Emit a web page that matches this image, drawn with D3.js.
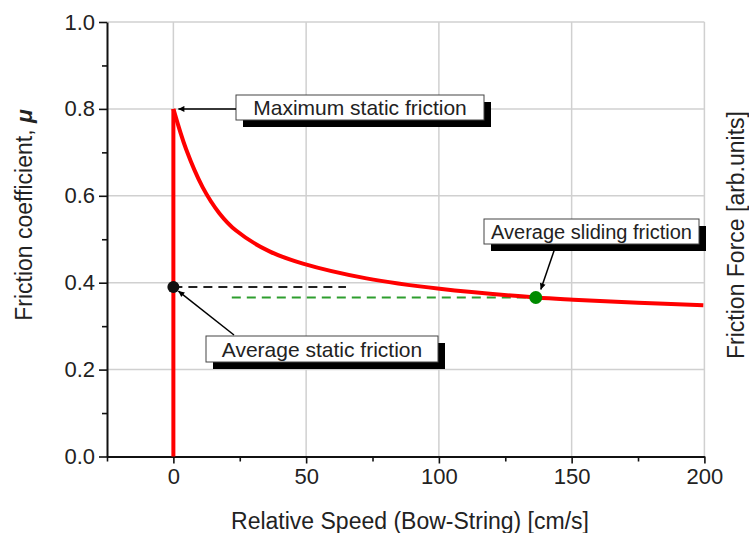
<!DOCTYPE html>
<html>
<head>
<meta charset="utf-8">
<script src="https://cdn.jsdelivr.net/npm/d3@7"></script>
<style>
  body { margin: 0; background: #fff; }
  text { font-family: "Liberation Sans", Arial, sans-serif; fill: #222; }
</style>
</head>
<body>
<div id="chart"></div>
<script>
// stick phase (vertical rise at zero speed)
const stickSpeed = [0, 0];
const stickMu = [0, 0.80];
// sliding phase
const slipSpeed = [0, 4.8, 11, 17.3, 23.6, 36.2, 48.8, 72.7, 100.3, 136.5, 150.6, 175, 199.6];
const slipMu = [0.80, 0.707, 0.620, 0.560, 0.520, 0.472, 0.444, 0.410, 0.386, 0.366, 0.361, 0.354, 0.348];

const xTicks = [0, 50, 100, 150, 200];
const xMinor = [-25, 25, 75, 125, 175];
const yTicks = [0, 0.2, 0.4, 0.6, 0.8, 1.0];
const yMinor = [0.1, 0.3, 0.5, 0.7, 0.9];

// markers and guide lines
const staticAvg = {speed: 0, mu: 0.39, lineEnd: 65};
const slidingAvg = {speed: 136.5, mu: 0.366, lineStart: 22};

const width = 749, height = 533;
const margin = {top: 22, right: 44, bottom: 76, left: 107};

const svg = d3.select("#chart")
    .append("svg")
    .attr("width", width)
    .attr("height", height);

const x = d3.scaleLinear()
    .domain([-25, 200])
    .range([margin.left, width - margin.right - 0.6]);

const y = d3.scaleLinear()
    .domain([0, 1])
    .range([height - margin.bottom - 0.5, margin.top]);

svg.append("defs").append("marker")
    .attr("id", "arrow")
    .attr("viewBox", "0 0 10 10")
    .attr("refX", 10).attr("refY", 5)
    .attr("markerWidth", 10).attr("markerHeight", 6)
    .attr("markerUnits", "userSpaceOnUse")
    .attr("orient", "auto")
    .append("path")
    .attr("d", "M0,0 L10,5 L0,10 Z")
    .attr("fill", "#000");

// grid
const grid = svg.append("g");
grid.selectAll(".gx")
    .data(xTicks)
    .enter().append("line")
    .attr("x1", d => x(d)).attr("x2", d => x(d))
    .attr("y1", y(0)).attr("y2", y(1))
    .style("stroke", "#d0d0d0")
    .style("stroke-width", 1.5);
grid.selectAll(".gy")
    .data(yTicks.slice(1))
    .enter().append("line")
    .attr("x1", x(-25)).attr("x2", x(200))
    .attr("y1", d => y(d)).attr("y2", d => y(d))
    .style("stroke", "#d0d0d0")
    .style("stroke-width", 1.5);

// axes
const xAxis = svg.append("g")
    .attr("transform", `translate(0, ${y(0)})`)
    .call(d3.axisBottom(x).tickValues(xTicks).tickSize(7).tickSizeOuter(0).tickPadding(5));
const yAxis = svg.append("g")
    .attr("transform", `translate(${x(-25)}, 0)`)
    .call(d3.axisLeft(y).tickValues(yTicks).tickFormat(d3.format(".1f")).tickSize(8).tickSizeOuter(0).tickPadding(4));

svg.append("g")
    .attr("transform", `translate(0, ${y(0)})`)
    .call(d3.axisBottom(x).tickValues(xMinor).tickSize(5).tickFormat("").tickSizeOuter(0))
    .select(".domain").remove();
svg.append("g")
    .attr("transform", `translate(${x(-25)}, 0)`)
    .call(d3.axisLeft(y).tickValues(yMinor).tickSize(5).tickFormat("").tickSizeOuter(0))
    .select(".domain").remove();

svg.selectAll(".domain").style("stroke", "#111").style("stroke-width", 2);
svg.selectAll(".tick line").style("stroke", "#111").style("stroke-width", 1.6);
xAxis.selectAll(".tick text").style("font-size", "22px").style("fill", "#222");
yAxis.selectAll(".tick text").style("font-size", "22px").style("fill", "#222");

// axis titles
svg.append("text")
    .attr("x", 410).attr("y", 529)
    .attr("text-anchor", "middle")
    .style("font-size", "23px")
    .text("Relative Speed (Bow-String) [cm/s]");

const yTitle = svg.append("text")
    .attr("transform", "translate(32, 215) rotate(-90)")
    .attr("text-anchor", "middle")
    .style("font-size", "23px");
yTitle.append("tspan").text("Friction coefficient, ");
yTitle.append("tspan").style("font-weight", "bold").style("font-style", "italic").text("\u03bc");

svg.append("text")
    .attr("transform", "translate(744, 235) rotate(-90)")
    .attr("text-anchor", "middle")
    .style("font-size", "23px")
    .text("Friction Force [arb.units]");

// guide lines
svg.append("line")
    .attr("x1", x(staticAvg.speed)).attr("x2", x(staticAvg.lineEnd))
    .attr("y1", y(staticAvg.mu)).attr("y2", y(staticAvg.mu))
    .style("stroke", "#222").style("stroke-width", 2)
    .style("stroke-dasharray", "9,6");
svg.append("line")
    .attr("x1", x(slidingAvg.lineStart)).attr("x2", x(slidingAvg.speed))
    .attr("y1", y(slidingAvg.mu)).attr("y2", y(slidingAvg.mu))
    .style("stroke", "#2e9e2e").style("stroke-width", 2)
    .style("stroke-dasharray", "9,6");

// friction curve
const line = d3.line().x(d => x(d[0])).y(d => y(d[1]));
svg.append("path")
    .datum(d3.zip(stickSpeed, stickMu))
    .attr("d", line)
    .style("fill", "none").style("stroke", "#ff0000").style("stroke-width", 4);
svg.append("path")
    .datum(d3.zip(slipSpeed, slipMu))
    .attr("d", line.curve(d3.curveCatmullRom.alpha(0.5)))
    .style("fill", "none").style("stroke", "#ff0000").style("stroke-width", 4)
    .style("stroke-linejoin", "round");

// points
svg.append("circle")
    .attr("cx", x(staticAvg.speed)).attr("cy", y(staticAvg.mu))
    .attr("r", 6).style("fill", "#111");
svg.append("circle")
    .attr("cx", x(slidingAvg.speed)).attr("cy", y(slidingAvg.mu))
    .attr("r", 6.5).style("fill", "#008a00");

// annotations: box with drop shadow, arrow to the point
function label(box, text, size, from, to) {
    const g = svg.append("g");
    g.append("rect")
        .attr("x", box[0] + 7).attr("y", box[1] + 7)
        .attr("width", box[2]).attr("height", box[3])
        .style("fill", "#000");
    g.append("rect")
        .attr("x", box[0]).attr("y", box[1])
        .attr("width", box[2]).attr("height", box[3])
        .style("fill", "#fff").style("stroke", "#444").style("stroke-width", 1);
    g.append("text")
        .attr("x", box[0] + box[2] / 2).attr("y", box[1] + box[3] / 2 + 7.5)
        .attr("text-anchor", "middle")
        .style("font-size", size + "px")
        .text(text);
    svg.append("line")
        .attr("x1", from[0]).attr("y1", from[1])
        .attr("x2", to[0]).attr("y2", to[1])
        .style("stroke", "#000").style("stroke-width", 1.5)
        .attr("marker-end", "url(#arrow)");
}

label([236, 95, 248, 25], "Maximum static friction", 21,
      [236, y(0.8)], [x(0) + 5, y(0.8)]);
label([206, 336, 232, 26], "Average static friction", 21,
      [234, 335], [x(staticAvg.speed) + 5, y(staticAvg.mu) + 4]);
label([484, 219, 215, 25], "Average sliding friction", 20,
      [556, 245], [x(slidingAvg.speed) + 5, y(slidingAvg.mu) - 8]);
</script>
</body>
</html>
